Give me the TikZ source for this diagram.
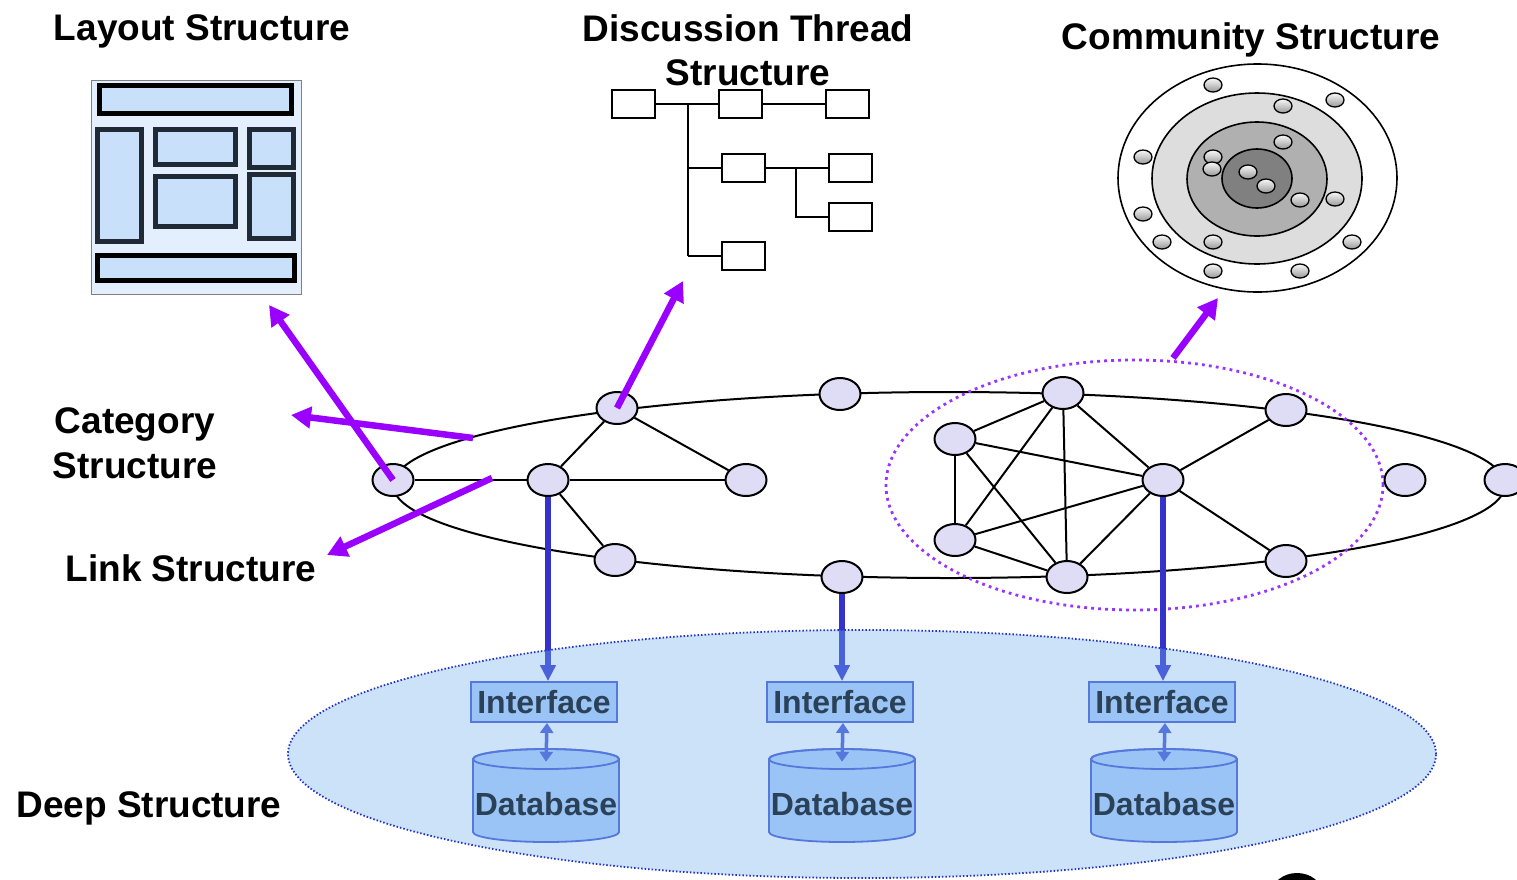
\documentclass[tikz,border=0pt]{standalone}
\usepackage{fontspec}
\setmainfont{Liberation Sans}
\usetikzlibrary{arrows.meta,shapes.geometric}
\definecolor{nodefill}{HTML}{DFDCF6}
\definecolor{pointviolet}{HTML}{9900FF}
\definecolor{dotviolet}{HTML}{9933FF}
\definecolor{dbblue}{HTML}{3333CC}
\definecolor{deepfill}{HTML}{75B1F0}
\definecolor{deepedge}{HTML}{2233CC}
\definecolor{boxfill}{HTML}{B0D0F8}
\definecolor{boxedge}{HTML}{4458D3}
\definecolor{pagebg}{HTML}{E3EFFD}
\definecolor{cellfill}{HTML}{C9E0FB}
\definecolor{celledge}{HTML}{1F2A36}
\definecolor{ringA}{HTML}{DDDDDD}
\definecolor{ringB}{HTML}{B0B0B0}
\definecolor{ringC}{HTML}{808080}
\begin{document}
\begin{tikzpicture}[x=1pt,y=-1pt,
  netnode/.style={ellipse, draw, line width=2pt, fill=nodefill,
    minimum width=41pt, minimum height=32pt, inner sep=0pt},
  link/.style={line width=2pt},
  title/.style={font=\fontsize{37}{44}\selectfont\bfseries, anchor=base, inner sep=0pt},
  pointer/.style={draw=pointviolet, line width=6.5pt, -{Triangle[length=20pt,width=21pt]}},
  feed/.style={draw=dbblue, line width=6pt, -{Triangle[length=16pt,width=15pt]}},
  access/.style={draw=boxedge, line width=3.5pt,
    {Triangle[length=10pt,width=13pt]}-{Triangle[length=10pt,width=13pt]}},
  postbox/.style={rectangle, draw, line width=2pt, minimum width=43pt,
    minimum height=28pt, inner sep=0pt},
  thread/.style={line width=2pt},
  ball/.style={ellipse, draw, line width=1.3pt, minimum width=18pt,
    minimum height=14pt, inner sep=0pt, top color=gray!5, bottom color=gray!80},
  cell/.style={line width=5pt, draw=celledge, fill=cellfill},
  iface/.style={rectangle, draw=boxedge, line width=1.8pt, fill=boxfill,
    minimum width=146pt, minimum height=40pt, inner sep=0pt,
    font=\fontsize{32}{36}\selectfont\bfseries, text=black},
  dbtext/.style={rectangle, minimum width=146pt, minimum height=73pt, inner sep=0pt,
    font=\fontsize{32}{36}\selectfont\bfseries, text=black},
  dbbody/.style={draw=boxedge, line width=1.8pt, fill=boxfill}
]
\useasboundingbox (0,0) rectangle (1517,879);
\fill[white] (0,0) rectangle (1517,879);

% ---------- titles ----------
\node[title] (tlayout) at (202,40) {Layout Structure};
\node[title] (tthread1) at (748,41) {Discussion Thread};
\node[title] (tthread2) at (748,85) {Structure};
\node[title] (tcomm) at (1251,49) {Community Structure};
\node[title] (tcat1) at (135,433) {Category};
\node[title] (tcat2) at (135,478) {Structure};
\node[title] (tlink) at (191,581) {Link Structure};
\node[title] (tdeep) at (149,817) {Deep Structure};

% ---------- page layout icon ----------
\draw[gray, line width=0.8pt, fill=pagebg] (91,80) rectangle (301,294);
\draw[cell, draw=black] (99.5,85.5) rectangle (291.5,113.5);
\draw[cell] (97.5,129.5) rectangle (141.5,241.5);
\draw[cell] (155.5,129.5) rectangle (235.5,164.5);
\draw[cell] (155.5,176.5) rectangle (235.5,226.5);
\draw[cell] (249.5,129.5) rectangle (293.5,167.5);
\draw[cell] (249.5,174.5) rectangle (293.5,238.5);
\draw[cell, draw=black] (97.5,255.5) rectangle (294.5,280.5);

% ---------- discussion thread tree ----------
\node[postbox] (t1) at (633,104) {};
\node[postbox] (t2) at (740.5,104) {};
\node[postbox] (t3) at (847.5,104) {};
\node[postbox] (t4) at (743.5,168) {};
\node[postbox] (t5) at (850.5,168) {};
\node[postbox] (t6) at (850.5,217) {};
\node[postbox] (t7) at (743.5,256) {};
\coordinate (j1) at (688,104);
\coordinate (j2) at (688,168);
\coordinate (j3) at (688,256);
\coordinate (k1) at (796,168);
\coordinate (k2) at (796,217);
\draw[thread] (t1.east) -- (t2.west);
\draw[thread] (t2.east) -- (t3.west);
\draw[thread] (j1) -- (j3);
\draw[thread] (j2) -- (t4.west);
\draw[thread] (j3) -- (t7.west);
\draw[thread] (t4.east) -- (t5.west);
\draw[thread] (k1) -- (k2) -- (t6.west);

% ---------- community rings ----------
\draw[line width=1.6pt, fill=white] (1257.5,178) ellipse [x radius=139.5pt, y radius=114pt];
\draw[line width=1.6pt, fill=ringA] (1257,178.5) ellipse [x radius=105pt, y radius=85.5pt];
\draw[line width=1.6pt, fill=ringB] (1257,179) ellipse [x radius=70pt, y radius=57pt];
\draw[line width=1.6pt, fill=ringC] (1257,178.5) ellipse [x radius=35pt, y radius=29.5pt];
\foreach \p [count=\i] in {(1213,85),(1335,100),(1283,106),(1143,157),(1283,142),
  (1213,157),(1212,169),(1248,172),(1266,186),(1300,200),(1335,199),(1143,214),
  (1162,242),(1213,242),(1352,242),(1213,271),(1300,271)}
  \node[ball] (m\i) at \p {};

% ---------- network ring ----------
\draw[line width=2pt] (949,485) ellipse [x radius=556pt, y radius=93pt];

% community boundary
\draw[dotviolet, line width=2.8pt, dash pattern=on 2.8pt off 4.2pt]
  (1134.5,485) ellipse [x radius=248.5pt, y radius=125pt];

% nodes
\node[netnode] (L0) at (393,480) {};
\node[netnode] (L1) at (548,480) {};
\node[netnode] (L2) at (617,408) {};
\node[netnode] (L3) at (746,480) {};
\node[netnode] (L4) at (615,560) {};
\node[netnode] (M1) at (840,394) {};
\node[netnode] (M2) at (842,577) {};
\node[netnode] (C1) at (1063,393) {};
\node[netnode] (C2) at (955,439) {};
\node[netnode] (C3) at (955,540) {};
\node[netnode] (C4) at (1067,577) {};
\node[netnode] (C5) at (1163,480) {};
\node[netnode] (R1) at (1286,410) {};
\node[netnode] (R2) at (1286,561) {};
\node[netnode] (R3) at (1405,480) {};
\node[netnode] (R4) at (1505,480) {};

% links
\draw[link] (L0) -- (L1);
\draw[link] (L1) -- (L2);
\draw[link] (L1) -- (L3);
\draw[link] (L1) -- (L4);
\draw[link] (L2) -- (L3);
\foreach \a/\b in {C1/C2,C1/C3,C1/C4,C1/C5,C2/C3,C2/C4,C2/C5,C3/C4,C3/C5,C4/C5,C5/R1,C5/R2}
  \draw[link] (\a) -- (\b);

% ---------- structure pointers ----------
\coordinate (catfrom) at (473,438);
\coordinate (catto) at (291,415);
\coordinate (linkfrom) at (492,478);
\coordinate (linkto) at (327,555);
\coordinate (layoutto) at (269,305);
\coordinate (threadto) at (683,281);
\coordinate (commfrom) at (1173,358);
\coordinate (commto) at (1218,298);
\draw[pointer] (L0.center) -- (layoutto);
\draw[pointer] (catfrom) -- (catto);
\draw[pointer] (linkfrom) -- (linkto);
\draw[pointer] (L2.center) -- (threadto);
\draw[pointer] (commfrom) -- (commto);

% ---------- deep structure ----------
\node[iface] (if1) at (544,702) {Interface};
\node[iface] (if2) at (840,702) {Interface};
\node[iface] (if3) at (1162,702) {Interface};
\foreach \n/\x in {db1/546, db2/842, db3/1164}{
  \path[dbbody] (\x-73,759) -- (\x-73,832)
    arc[start angle=180, end angle=360, x radius=73pt, y radius=10pt]
    -- (\x+73,759)
    arc[start angle=0, end angle=180, x radius=73pt, y radius=10pt] -- cycle;
  \draw[boxedge, line width=1.8pt] (\x,759) ellipse [x radius=73pt, y radius=10pt];
  \node[dbtext] (\n) at (\x,804) {Database};
}
\draw[feed] (L1.south) -- (L1.south |- if1.north);
\draw[feed] (M2.south) -- (M2.south |- if2.north);
\draw[feed] (C5.south) -- (C5.south |- if3.north);
\draw[access] (if1.south -| 547,0) -- ([yshift=5.5pt]db1.north);
\draw[access] (if2.south -| 843,0) -- ([yshift=5.5pt]db2.north);
\draw[access] (if3.south -| 1165,0) -- ([yshift=5.5pt]db3.north);

% translucent deep-structure layer
\fill[deepfill, fill opacity=0.37] (862,754) ellipse [x radius=574pt, y radius=124pt];
\draw[deepedge, line width=1.8pt, dash pattern=on 1.5pt off 2pt]
  (862,754) ellipse [x radius=574pt, y radius=124pt];

% corner mark
\fill[black] (1297,893) ellipse [x radius=25pt, y radius=20pt];
\end{tikzpicture}
\end{document}
